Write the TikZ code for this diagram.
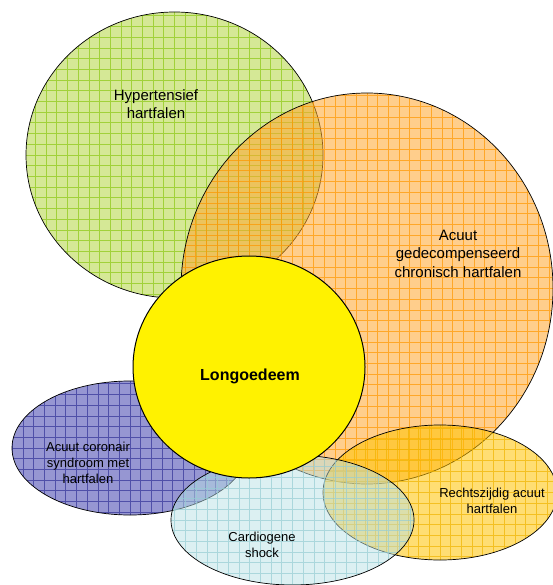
\documentclass[tikz,border=0pt]{standalone}
\usepackage{fontspec}
\setmainfont{Liberation Sans}
\usetikzlibrary{shapes.geometric}
\definecolor{grnF}{RGB}{179,213,64}
\definecolor{grnL}{RGB}{140,200,20}
\definecolor{orF}{RGB}{255,166,46}
\definecolor{orL}{RGB}{255,150,0}
\definecolor{goF}{RGB}{255,195,0}
\definecolor{goL}{RGB}{240,180,0}
\definecolor{bluF}{RGB}{80,80,180}
\definecolor{bluL}{RGB}{50,50,150}
\definecolor{cyF}{RGB}{185,225,229}
\definecolor{cyL}{RGB}{150,205,212}
\begin{document}
\begin{tikzpicture}[x=1pt,y=-1pt,
  blob/.style={ellipse, draw=black, line width=0.7pt, inner sep=0pt, outer sep=0pt},
  gridfill/.style={path picture={\draw[line width=0.8pt, draw=#1, draw opacity=0.7]
     (path picture bounding box.south west) grid[xstep=10.7pt, ystep=10.7pt]
     (path picture bounding box.north east);}},
  bigtxt/.style={align=center, inner sep=0pt, text=black, font=\fontsize{15}{18.5}\selectfont},
  smalltxt/.style={align=center, inner sep=0pt, text=black, font=\fontsize{13}{16}\selectfont}
]
\useasboundingbox (0,0) rectangle (552,585);
\node[blob, fill=grnF, fill opacity=.55, gridfill=grnL, minimum width=297pt, minimum height=286pt] (hyp) at (174.5,155) {};
\node[blob, fill=orF, fill opacity=.55, gridfill=orL, minimum width=372pt, minimum height=391pt] (acd) at (367,288.5) {};
\node[blob, fill=goF, fill opacity=.55, gridfill=goL, minimum width=234pt, minimum height=135pt] (rz) at (440,492.5) {};
\node[blob, fill=bluF, fill opacity=.6, gridfill=bluL, minimum width=236pt, minimum height=134pt] (acs) at (130,448) {};
\node[blob, fill=cyF, fill opacity=.5, gridfill=cyL, minimum width=243pt, minimum height=130pt] (cs) at (292.5,520) {};
\node[blob, fill=yellow, line width=1pt, minimum width=232pt, minimum height=222pt] (lo) at (249,367) {};

\node[bigtxt] (thyp) at (156,104) {Hypertensief\\hartfalen};
\node[bigtxt] (tacd) at (458,253.5) {Acuut\\gedecompenseerd\\chronisch hartfalen};
\node[align=center, inner sep=0pt, font=\fontsize{16}{19}\selectfont\bfseries] (tlo) at (250,376) {Longoedeem};
\node[smalltxt] (tacs) at (88,463) {Acuut coronair\\syndroom met\\hartfalen};
\node[smalltxt] (tcs) at (262,545) {Cardiogene\\shock};
\node[smalltxt] (trz) at (492,501) {Rechtszijdig acuut\\hartfalen};
\end{tikzpicture}
\end{document}
